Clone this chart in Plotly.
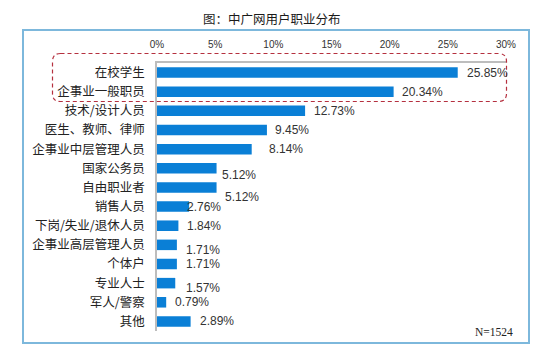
import plotly.graph_objects as go

# ---- data ----
categories = ["在校学生", "企事业一般职员", "技术/设计人员", "医生、教师、律师",
              "企事业中层管理人员", "国家公务员", "自由职业者", "销售人员",
              "下岗/失业/退休人员", "企事业高层管理人员", "个体户", "专业人士",
              "军人/警察", "其他"]
values = [25.85, 20.34, 12.73, 9.45, 8.14, 5.12, 5.12, 2.76, 1.84, 1.71, 1.71, 1.57, 0.79, 2.89]
tick_values = [0, 5, 10, 15, 20, 25, 30]
tick_labels = ["0%", "5%", "10%", "15%", "20%", "25%", "30%"]
title_text = "图：中广网用户职业分布"
note_text = "N=1524"

# ---- label offsets (pixels, style only) ----
label_dx = [7, 6, 7, 6, 15, 3, 6, -4, 7, 7, 7, 9, 7, 7]
label_dy = [0, 0, 0, 0, 0, -7, -10, 0, 0, -5, 0, -5, 0, 0]

W, H = 550, 351
L, R, T, B = 157, 506, 63, 331  # plot area in pixels


def px(x):
    return (x - L) / (R - L)


def py(y):
    return (B - y) / (B - T)


fig = go.Figure()
fig.add_trace(go.Bar(
    x=values, y=categories, orientation="h",
    marker=dict(color="#0A7FD6", line=dict(width=0)),
    width=0.55, hoverinfo="skip",
))

annotations = []
for c, v, dx, dy in zip(categories, values, label_dx, label_dy):
    annotations.append(dict(
        x=v, y=c, xref="x", yref="y", text=f"{v:.2f}%", showarrow=False,
        xanchor="left", yanchor="middle", xshift=dx, yshift=dy,
        font=dict(family="Liberation Sans, Arial", size=12, color="#333333"),
    ))

annotations.append(dict(
    x=px(272), y=py(19), xref="paper", yref="paper", text=title_text,
    showarrow=False, xanchor="center", yanchor="middle",
    font=dict(family="Noto Sans CJK SC", size=12.5, color="#1a1a1a"),
))
annotations.append(dict(
    x=px(515), y=py(331.5), xref="paper", yref="paper", text=note_text,
    showarrow=False, xanchor="right", yanchor="middle",
    font=dict(family="Liberation Serif", size=11.5, color="#222222"),
))

# rounded dashed highlight box
bx0, bx1, by0, by1, r = 52.5, 506.5, 53.5, 101.5, 8
path = (f"M {px(bx0 + r)},{py(by0)} L {px(bx1 - r)},{py(by0)} "
        f"Q {px(bx1)},{py(by0)} {px(bx1)},{py(by0 + r)} "
        f"L {px(bx1)},{py(by1 - r)} Q {px(bx1)},{py(by1)} {px(bx1 - r)},{py(by1)} "
        f"L {px(bx0 + r)},{py(by1)} Q {px(bx0)},{py(by1)} {px(bx0)},{py(by1 - r)} "
        f"L {px(bx0)},{py(by0 + r)} Q {px(bx0)},{py(by0)} {px(bx0 + r)},{py(by0)} Z")

shapes = [
    dict(type="rect", xref="paper", yref="paper",
         x0=px(23), x1=px(529), y0=py(343), y1=py(30),
         line=dict(color="#7DB8DC", width=2), layer="below"),
    dict(type="path", xref="paper", yref="paper", path=path,
         line=dict(color="#B5303F", width=1.2, dash="4px,3px")),
]

fig.update_layout(
    width=W, height=H,
    margin=dict(l=L, r=W - R, t=T, b=H - B, pad=0),
    paper_bgcolor="white", plot_bgcolor="white",
    showlegend=False,
    annotations=annotations,
    shapes=shapes,
    bargap=0.45,
    xaxis=dict(
        side="top", range=[0, 30], tickvals=tick_values, ticktext=tick_labels,
        showgrid=False, zeroline=False, showline=True, linecolor="#BDBDBD",
        linewidth=2, ticks="", ticklabelstandoff=9,
        tickfont=dict(family="Liberation Sans, Arial", size=10, color="#333333"),
        fixedrange=True,
    ),
    yaxis=dict(
        autorange="reversed", showgrid=False, zeroline=False, showline=True,
        linecolor="#BDBDBD", linewidth=1.5, ticks="", ticklabelstandoff=8,
        tickfont=dict(family="Noto Sans CJK SC", size=12.5, color="#222222"),
        fixedrange=True,
    ),
)

fig.write_html("out.html")
